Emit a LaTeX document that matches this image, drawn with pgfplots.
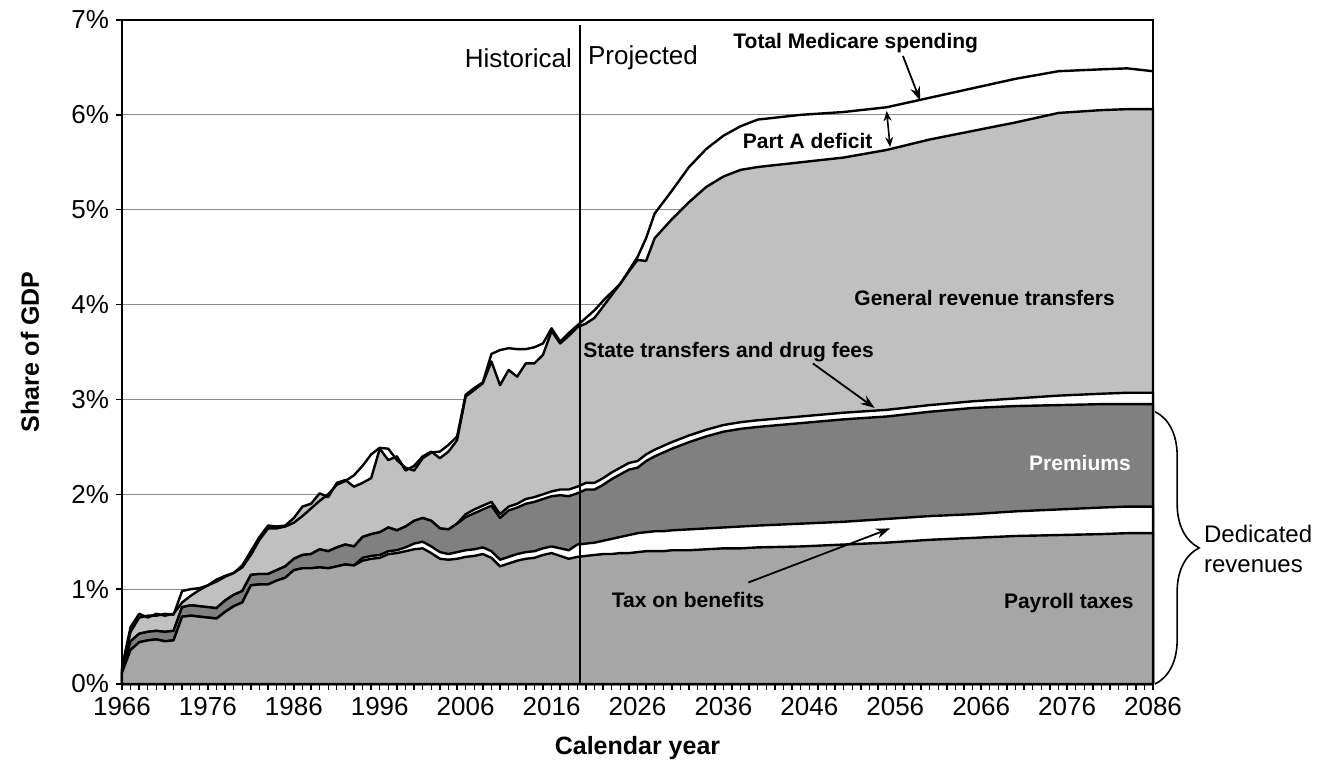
\documentclass[border=0pt]{standalone}
\usepackage{fontspec}
\setmainfont{Liberation Sans}
\usepackage{pgfplots}
\usepackage{pgfplotstable}
\pgfplotsset{compat=1.18}
\usetikzlibrary{arrows.meta,decorations.pathreplacing}
\definecolor{payroll}{RGB}{166,166,166}
\definecolor{premium}{RGB}{128,128,128}
\definecolor{genrev}{RGB}{192,192,192}
\definecolor{gridc}{RGB}{140,140,140}

\pgfplotstableread{
year P T M S G X
1966 0.12 0.12 0.15 0.15 0.18 0.15
1967 0.36 0.36 0.45 0.45 0.60 0.55
1968 0.44 0.44 0.53 0.53 0.74 0.70
1969 0.46 0.46 0.55 0.55 0.70 0.72
1970 0.47 0.47 0.56 0.56 0.74 0.72
1971 0.45 0.45 0.55 0.55 0.72 0.74
1972 0.46 0.46 0.56 0.56 0.74 0.73
1973 0.71 0.71 0.81 0.81 0.86 0.98
1974 0.72 0.72 0.83 0.83 0.93 1.00
1975 0.71 0.71 0.82 0.82 0.99 1.01
1976 0.70 0.70 0.81 0.81 1.04 1.04
1977 0.69 0.69 0.80 0.80 1.10 1.08
1978 0.76 0.76 0.88 0.88 1.14 1.13
1979 0.82 0.82 0.94 0.94 1.17 1.17
1980 0.86 0.86 0.98 0.98 1.25 1.23
1981 1.04 1.04 1.15 1.15 1.40 1.36
1982 1.05 1.05 1.16 1.16 1.55 1.52
1983 1.05 1.05 1.16 1.16 1.67 1.64
1984 1.09 1.09 1.20 1.20 1.66 1.64
1985 1.12 1.12 1.24 1.24 1.67 1.66
1986 1.20 1.20 1.32 1.32 1.75 1.70
1987 1.22 1.22 1.36 1.36 1.87 1.77
1988 1.22 1.22 1.37 1.37 1.90 1.85
1989 1.23 1.23 1.42 1.42 2.01 1.93
1990 1.22 1.22 1.40 1.40 1.97 2.00
1991 1.24 1.24 1.44 1.44 2.12 2.10
1992 1.26 1.26 1.47 1.47 2.15 2.14
1993 1.25 1.25 1.45 1.45 2.08 2.20
1994 1.30 1.33 1.55 1.55 2.12 2.30
1995 1.32 1.35 1.58 1.58 2.17 2.42
1996 1.33 1.36 1.60 1.60 2.48 2.49
1997 1.37 1.40 1.65 1.65 2.36 2.48
1998 1.38 1.41 1.62 1.62 2.40 2.36
1999 1.40 1.44 1.66 1.66 2.25 2.28
2000 1.42 1.48 1.72 1.72 2.30 2.25
2001 1.43 1.50 1.75 1.75 2.40 2.38
2002 1.38 1.45 1.72 1.72 2.45 2.44
2003 1.32 1.39 1.64 1.64 2.38 2.45
2004 1.31 1.37 1.63 1.63 2.45 2.52
2005 1.32 1.39 1.69 1.69 2.57 2.61
2006 1.34 1.41 1.76 1.79 3.03 3.05
2007 1.35 1.42 1.80 1.84 3.10 3.12
2008 1.37 1.44 1.84 1.88 3.17 3.18
2009 1.33 1.40 1.88 1.92 3.40 3.48
2010 1.24 1.31 1.75 1.79 3.15 3.52
2011 1.27 1.34 1.83 1.87 3.31 3.54
2012 1.30 1.37 1.86 1.90 3.24 3.53
2013 1.32 1.39 1.90 1.95 3.38 3.53
2014 1.33 1.40 1.92 1.97 3.38 3.55
2015 1.36 1.43 1.95 2.00 3.47 3.59
2016 1.38 1.45 1.98 2.03 3.72 3.75
2017 1.35 1.43 1.99 2.05 3.59 3.61
2018 1.32 1.41 1.98 2.05 3.67 3.70
2019 1.34 1.47 2.01 2.08 3.76 3.78
2020 1.35 1.48 2.05 2.12 3.80 3.86
2021 1.36 1.49 2.05 2.12 3.86 3.94
2022 1.37 1.51 2.10 2.17 3.98 4.04
2023 1.37 1.53 2.16 2.23 4.10 4.13
2024 1.38 1.55 2.21 2.28 4.22 4.22
2025 1.38 1.57 2.26 2.33 4.35 4.36
2026 1.39 1.59 2.28 2.35 4.47 4.50
2027 1.40 1.60 2.35 2.42 4.46 4.70
2028 1.40 1.61 2.40 2.47 4.70 4.96
2029 1.40 1.61 2.44 2.51 4.80 5.08
2030 1.41 1.62 2.48 2.55 4.90 5.20
2032 1.41 1.63 2.55 2.62 5.08 5.45
2034 1.42 1.64 2.61 2.68 5.24 5.64
2036 1.43 1.65 2.66 2.73 5.35 5.78
2038 1.43 1.66 2.69 2.76 5.42 5.88
2040 1.44 1.67 2.71 2.78 5.45 5.95
2045 1.45 1.69 2.75 2.82 5.50 6.00
2050 1.47 1.71 2.79 2.86 5.55 6.03
2055 1.49 1.74 2.82 2.89 5.63 6.08
2060 1.52 1.77 2.87 2.94 5.74 6.18
2065 1.54 1.79 2.91 2.98 5.83 6.28
2070 1.56 1.82 2.93 3.01 5.92 6.38
2075 1.57 1.84 2.94 3.04 6.02 6.46
2080 1.58 1.86 2.95 3.06 6.05 6.48
2083 1.59 1.87 2.95 3.07 6.06 6.49
2086 1.59 1.87 2.95 3.07 6.06 6.46
}\data

\begin{document}
\begin{tikzpicture}
\begin{axis}[
  scale only axis, width=515.5pt, height=332pt,
  xmin=1966, xmax=2086, ymin=0, ymax=7,
  xtick={1966,1976,...,2086},
  xticklabels={1966,1976,1986,1996,2006,2016,2026,2036,2046,2056,2066,2076,2086},
  minor x tick num=9,
  ytick={0,1,...,7},
  yticklabels={0\%,1\%,2\%,3\%,4\%,5\%,6\%,7\%},
  ymajorgrids, major grid style={gridc, line width=0.6pt},
  tick align=outside, tick pos=left,
  major tick length=3pt, minor tick length=3pt,
  every tick/.style={black, line width=0.7pt},
  axis line style={black, line width=1pt},
  ticklabel style={font=\fontsize{13}{15}\selectfont},
  xlabel={Calendar year}, ylabel={Share of GDP},
  label style={font=\fontsize{12.5}{14}\selectfont\bfseries},
  xlabel style={at={(axis description cs:0.5,-0.0964)}, anchor=center},
  ylabel style={at={(axis description cs:-0.0892,0.5)}, anchor=center},
  clip=false,
]
\addplot[fill=genrev, draw=black, line width=1.2pt, line join=round] table[x=year,y=G]{\data} \closedcycle;
\addplot[fill=white, draw=black, line width=1.2pt, line join=round] table[x=year,y=S]{\data} \closedcycle;
\addplot[fill=premium, draw=black, line width=1.2pt, line join=round] table[x=year,y=M]{\data} \closedcycle;
\addplot[fill=white, draw=black, line width=1.2pt, line join=round] table[x=year,y=T]{\data} \closedcycle;
\addplot[fill=payroll, draw=black, line width=1.2pt, line join=round] table[x=year,y=P]{\data} \closedcycle;
\addplot[black, line width=1.2pt, line join=round] table[x=year,y=X]{\data};

\draw[black, line width=0.8pt] (axis cs:2019.3,0) -- (axis cs:2019.3,6.95);
\node[anchor=east, inner sep=0, font=\fontsize{13}{15}\selectfont] at (axis cs:2018.4,6.6) {Historical};
\node[anchor=west, inner sep=0, font=\fontsize{13}{15}\selectfont] at (axis cs:2020.2,6.6) {Projected};

\node[font=\fontsize{10.5}{12}\selectfont\bfseries] at (axis cs:2051.4,6.76) {Total Medicare spending};
\draw[-{Stealth[length=7pt,width=5pt]}, line width=0.9pt] (axis cs:2056.9,6.62) -- (axis cs:2058.9,6.15);
\node[font=\fontsize{10.5}{12}\selectfont\bfseries] at (axis cs:2045.8,5.72) {Part A deficit};
\draw[{Stealth[length=5pt,width=4pt]}-{Stealth[length=5pt,width=4pt]}, line width=0.8pt] (axis cs:2055.0,6.04) -- (axis cs:2055.4,5.66);
\node[font=\fontsize{10.5}{12}\selectfont\bfseries] at (axis cs:2066.4,4.07) {General revenue transfers};
\node[font=\fontsize{10.5}{12}\selectfont\bfseries] at (axis cs:2036.6,3.50) {State transfers and drug fees};
\draw[-{Stealth[length=7pt,width=5pt]}, line width=0.9pt] (axis cs:2046.4,3.38) -- (axis cs:2053.6,2.91);
\node[font=\fontsize{10.5}{12}\selectfont\bfseries, text=white] at (axis cs:2077.5,2.33) {Premiums};
\node[font=\fontsize{10.5}{12}\selectfont\bfseries] at (axis cs:2031.9,0.89) {Tax on benefits};
\draw[-{Stealth[length=7pt,width=5pt]}, line width=0.9pt] (axis cs:2038.9,1.07) -- (axis cs:2055.4,1.64);
\node[font=\fontsize{10.5}{12}\selectfont\bfseries] at (axis cs:2076.2,0.85) {Payroll taxes};

\draw[decorate, decoration={brace, amplitude=22pt}, line width=0.8pt] (axis cs:2086.25,2.87) -- (axis cs:2086.25,0);
\node[anchor=west, align=left, inner sep=0, font=\fontsize{12}{15}\selectfont] at (axis cs:2091.9,1.42) {Dedicated\\revenues};

\coordinate (SW) at (rel axis cs:0,0);
\coordinate (NE) at (rel axis cs:1,1);
\end{axis}
\pgfresetboundingbox
\path ([shift={(-61pt,-41pt)}]SW) rectangle ([shift={(86.5pt,10pt)}]NE);
\end{tikzpicture}
\end{document}
